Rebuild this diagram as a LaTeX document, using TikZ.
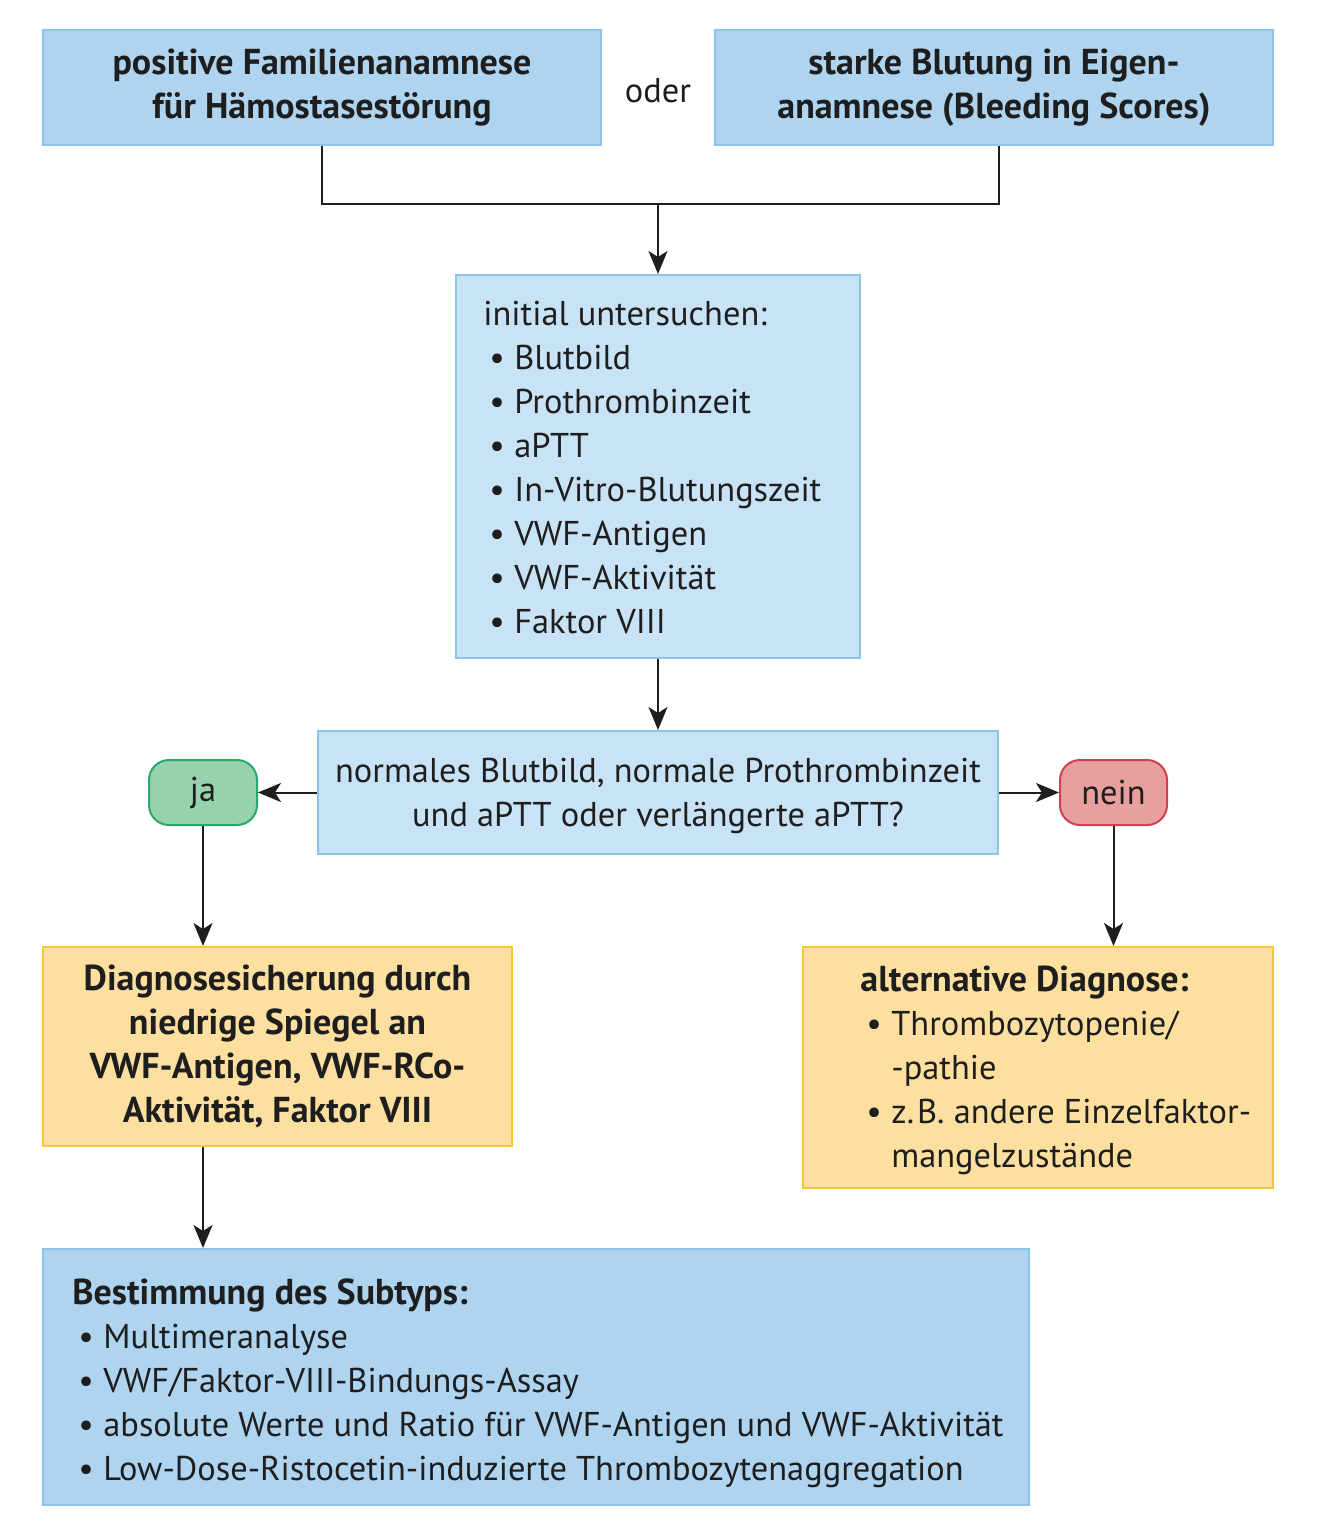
\documentclass[tikz,border=0pt]{standalone}
\usepackage{fontspec}
\setmainfont{PT Sans}
\usetikzlibrary{arrows.meta,calc}
\definecolor{bluefill}{RGB}{174,212,240}
\definecolor{lightfill}{RGB}{200,226,246}
\definecolor{blueline}{RGB}{140,196,234}
\definecolor{yellowfill}{RGB}{253,224,160}
\definecolor{yellowline}{RGB}{247,196,60}
\definecolor{greenfill}{RGB}{151,209,174}
\definecolor{greenline}{RGB}{42,168,106}
\definecolor{redfill}{RGB}{232,160,158}
\definecolor{redline}{RGB}{208,64,80}
\definecolor{ink}{RGB}{30,30,30}
\newcommand{\bi}{\makebox[15.5pt][l]{\hspace{3pt}\textbullet}}
\newcommand{\bb}{\fontsize{18}{22}\selectfont\bfseries}
\begin{document}
\begin{tikzpicture}[x=0.5pt,y=-0.5pt,
  box/.style={draw=blueline,line width=1pt,inner sep=0pt,align=center,font=\fontsize{17.2}{22}\selectfont,text=ink},
  darkbox/.style={box,fill=bluefill},
  lightbox/.style={box,fill=lightfill},
  yelbox/.style={box,draw=yellowline,fill=yellowfill},
  pill/.style={draw,line width=1pt,rounded corners=10pt,inner sep=0pt,font=\fontsize{17.2}{22}\selectfont,text=ink,minimum width=54pt,minimum height=32.5pt},
  txt/.style={inner sep=0pt,anchor=west,align=left,font=\fontsize{17.2}{22}\selectfont,text=ink},
  arr/.style={line width=1pt,draw=ink,-{Stealth[length=11.5pt,width=9.5pt,inset=3pt]}},
  ln/.style={line width=1pt,draw=ink}]
\useasboundingbox (0,0) rectangle (1320,1536);
\fill[white] (0,0) rectangle (1320,1536);
\node[darkbox,minimum width=279pt,minimum height=57.5pt] (A) at (322,87.5) {\bb positive Familienanamnese\\\bb für Hämostasestörung};
\node[darkbox,minimum width=279pt,minimum height=57.5pt] (B) at (994,87.5) {\bb starke Blutung in Eigen-\\\bb anamnese (Bleeding Scores)};
\node[inner sep=0pt,font=\fontsize{17.2}{22}\selectfont,text=ink] (oder) at (658,91) {oder};
\node[lightbox,minimum width=202pt,minimum height=191.5pt] (C) at (658,466.5) {};
\node[txt] (Ct) at (483,468) {initial untersuchen:\\
\bi Blutbild\\ \bi Prothrombinzeit\\ \bi aPTT\\ \bi In-Vitro-Blutungszeit\\ \bi VWF-Antigen\\ \bi VWF-Aktivität\\ \bi Faktor VIII};
\node[lightbox,minimum width=340pt,minimum height=61.5pt] (D) at (658,792.5) {};
\node[inner sep=0pt,align=center,font=\fontsize{17.2}{22}\selectfont,text=ink] (Dt) at (658,795.5) {normales Blutbild, normale Prothrombinzeit\\und aPTT oder verlängerte aPTT?};
\node[pill,draw=greenline,fill=greenfill] (ja) at (203,792.5) {ja};
\node[pill,draw=redline,fill=redfill,minimum width=53.5pt] (nein) at (1113.5,792.5) {nein};
\node[yelbox,minimum width=234.5pt,minimum height=99.5pt] (E) at (277.5,1046.5) {\bb Diagnosesicherung durch\\\bb niedrige Spiegel an\\\bb VWF-Antigen, VWF-RCo-\\\bb Aktivität, Faktor VIII};
\node[yelbox,minimum width=235pt,minimum height=120.5pt] (F) at (1038,1067.5) {};
\node[txt] (Ft) at (860,1070) {{\bb alternative Diagnose:}\\
\bi Thrombozytopenie/\\ \hspace*{15.5pt}-pathie\\ \bi z.\kern1.5pt B. andere Einzelfaktor-\\ \hspace*{15.5pt}mangelzustände};
\node[darkbox,minimum width=493pt,minimum height=128pt] (G) at (536,1377) {};
\node[txt] (Gt) at (72,1383) {{\bb Bestimmung des Subtyps:}\\
\bi Multimeranalyse\\ \bi VWF/Faktor-VIII-Bindungs-Assay\\ \bi absolute Werte und Ratio für VWF-Antigen und VWF-Aktivität\\ \bi Low-Dose-Ristocetin-induzierte Thrombozytenaggregation};
\coordinate (j) at (658,204);
\draw[ln] (A.south) |- (j) -| ([xshift=2.5pt]B.south);
\draw[arr] (j) -- (C.north);
\draw[arr] (C.south) -- (D.north);
\draw[arr] (D.west) -- (ja.east);
\draw[arr] (D.east) -- (nein.west);
\draw[arr] (ja.south) -- (ja.south |- E.north);
\draw[arr] (nein.south) -- (nein.south |- F.north);
\draw[arr] (ja.south |- E.south) -- (ja.south |- G.north);
\end{tikzpicture}
\end{document}
